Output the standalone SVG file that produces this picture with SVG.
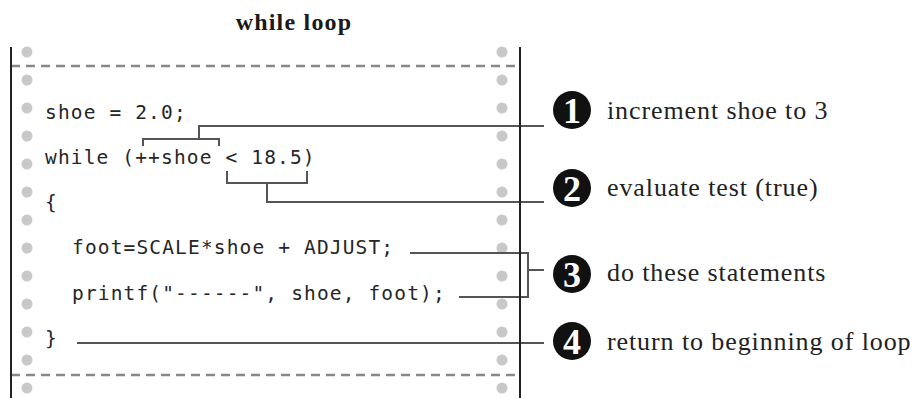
<svg xmlns="http://www.w3.org/2000/svg" width="914" height="398" viewBox="0 0 914 398">
<defs>
<style>
.title{font-family:"Liberation Serif",serif;font-weight:bold;font-size:24px;letter-spacing:1.2px;fill:#1a1a1a}
.code{font-family:"DejaVu Sans Mono",monospace;font-size:19.5px;letter-spacing:1.15px;fill:#262626}
.note{font-family:"Liberation Serif",serif;font-size:26px;letter-spacing:0.9px;fill:#222}
.num{font-family:"Liberation Serif",serif;font-weight:bold;font-size:36px;fill:#fff;text-anchor:middle}
.dot{fill:#c8c8c8}
.border{stroke:#222;stroke-width:2;fill:none}
.dash{stroke:#888;stroke-width:2.5;stroke-dasharray:9 6;fill:none}
.conn{stroke:#555;stroke-width:2;fill:none}
</style>
<g id="dotpair">
<circle class="dot" cx="27" cy="0" r="5.5"/>
<circle class="dot" cx="502" cy="0" r="5.5"/>
</g>
</defs>
<rect width="914" height="398" fill="#fff"/>
<text class="title" x="294" y="30" text-anchor="middle">while loop</text>

<g id="page">
<use href="#dotpair" y="52"/><use href="#dotpair" y="80"/><use href="#dotpair" y="108"/>
<use href="#dotpair" y="136"/><use href="#dotpair" y="164"/><use href="#dotpair" y="192"/>
<use href="#dotpair" y="220"/><use href="#dotpair" y="248"/><use href="#dotpair" y="276"/>
<use href="#dotpair" y="304"/><use href="#dotpair" y="332"/><use href="#dotpair" y="360"/>
<use href="#dotpair" y="388"/>
<line class="dash" x1="11" y1="66" x2="520" y2="66"/>
<line class="dash" x1="11" y1="375" x2="520" y2="375"/>
<line class="border" x1="11" y1="47" x2="11" y2="398"/>
</g>

<g id="code">
<text class="code" x="45" y="119">shoe = 2.0;</text>
<text class="code" x="45" y="164">while (++shoe &lt; 18.5)</text>
<text class="code" x="45" y="209">{</text>
<text class="code" x="72" y="254">foot=SCALE*shoe + ADJUST;</text>
<text class="code" x="72" y="300">printf("------", shoe, foot);</text>
<text class="code" x="45" y="345">}</text>
</g>

<g id="connectors">
<polyline class="conn" points="143,146 143,139 219,139 219,146"/>
<polyline class="conn" points="199,139 199,126 544,126"/>
<polyline class="conn" points="227,171 227,183 307,183 307,171"/>
<polyline class="conn" points="267,183 267,202 544,202"/>
<polyline class="conn" points="410,253 528,253 528,297 459,297"/>
<line class="conn" x1="528" y1="270" x2="544" y2="270"/>
<line class="conn" x1="77" y1="343" x2="544" y2="343"/>
</g>
<line class="border" x1="520" y1="47" x2="520" y2="398"/>

<g id="note1">
<circle cx="572" cy="110" r="19" fill="#111"/>
<text class="num" x="572" y="122.5">1</text>
<text class="note" x="607" y="119">increment shoe to 3</text>
</g>
<g id="note2">
<circle cx="572" cy="188" r="19" fill="#111"/>
<text class="num" x="572" y="200.5">2</text>
<text class="note" x="607" y="196">evaluate test (true)</text>
</g>
<g id="note3">
<circle cx="572" cy="274" r="19" fill="#111"/>
<text class="num" x="572" y="286.5">3</text>
<text class="note" x="607" y="281">do these statements</text>
</g>
<g id="note4">
<circle cx="572" cy="341" r="19" fill="#111"/>
<text class="num" x="572" y="353.5">4</text>
<text class="note" x="607" y="350">return to beginning of loop</text>
</g>
</svg>
